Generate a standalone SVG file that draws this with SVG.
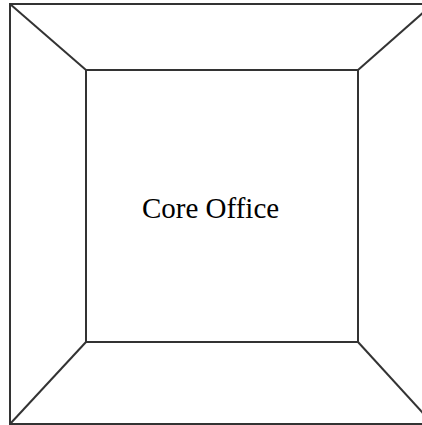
<svg xmlns="http://www.w3.org/2000/svg" width="422" height="425" viewBox="0 0 422 425">
<style>
.ln{stroke:#333;stroke-width:2;fill:none}
.lbl{font-family:"Liberation Serif","Times New Roman",serif;font-size:29px;fill:#000}
</style>
<rect width="422" height="425" fill="#fff"/>
<g id="outer"><rect class="ln" x="10" y="4" width="423" height="420"/></g>
<g id="connectors">
<line class="ln" x1="10" y1="4" x2="86" y2="70"/>
<line class="ln" x1="433" y1="4" x2="358" y2="70"/>
<line class="ln" x1="10" y1="424" x2="86" y2="342"/>
<line class="ln" x1="433" y1="424" x2="358" y2="342"/>
</g>
<g id="core"><rect class="ln" x="86" y="70" width="272" height="272"/>
<text class="lbl" x="142" y="218">Core Office</text></g>
</svg>
